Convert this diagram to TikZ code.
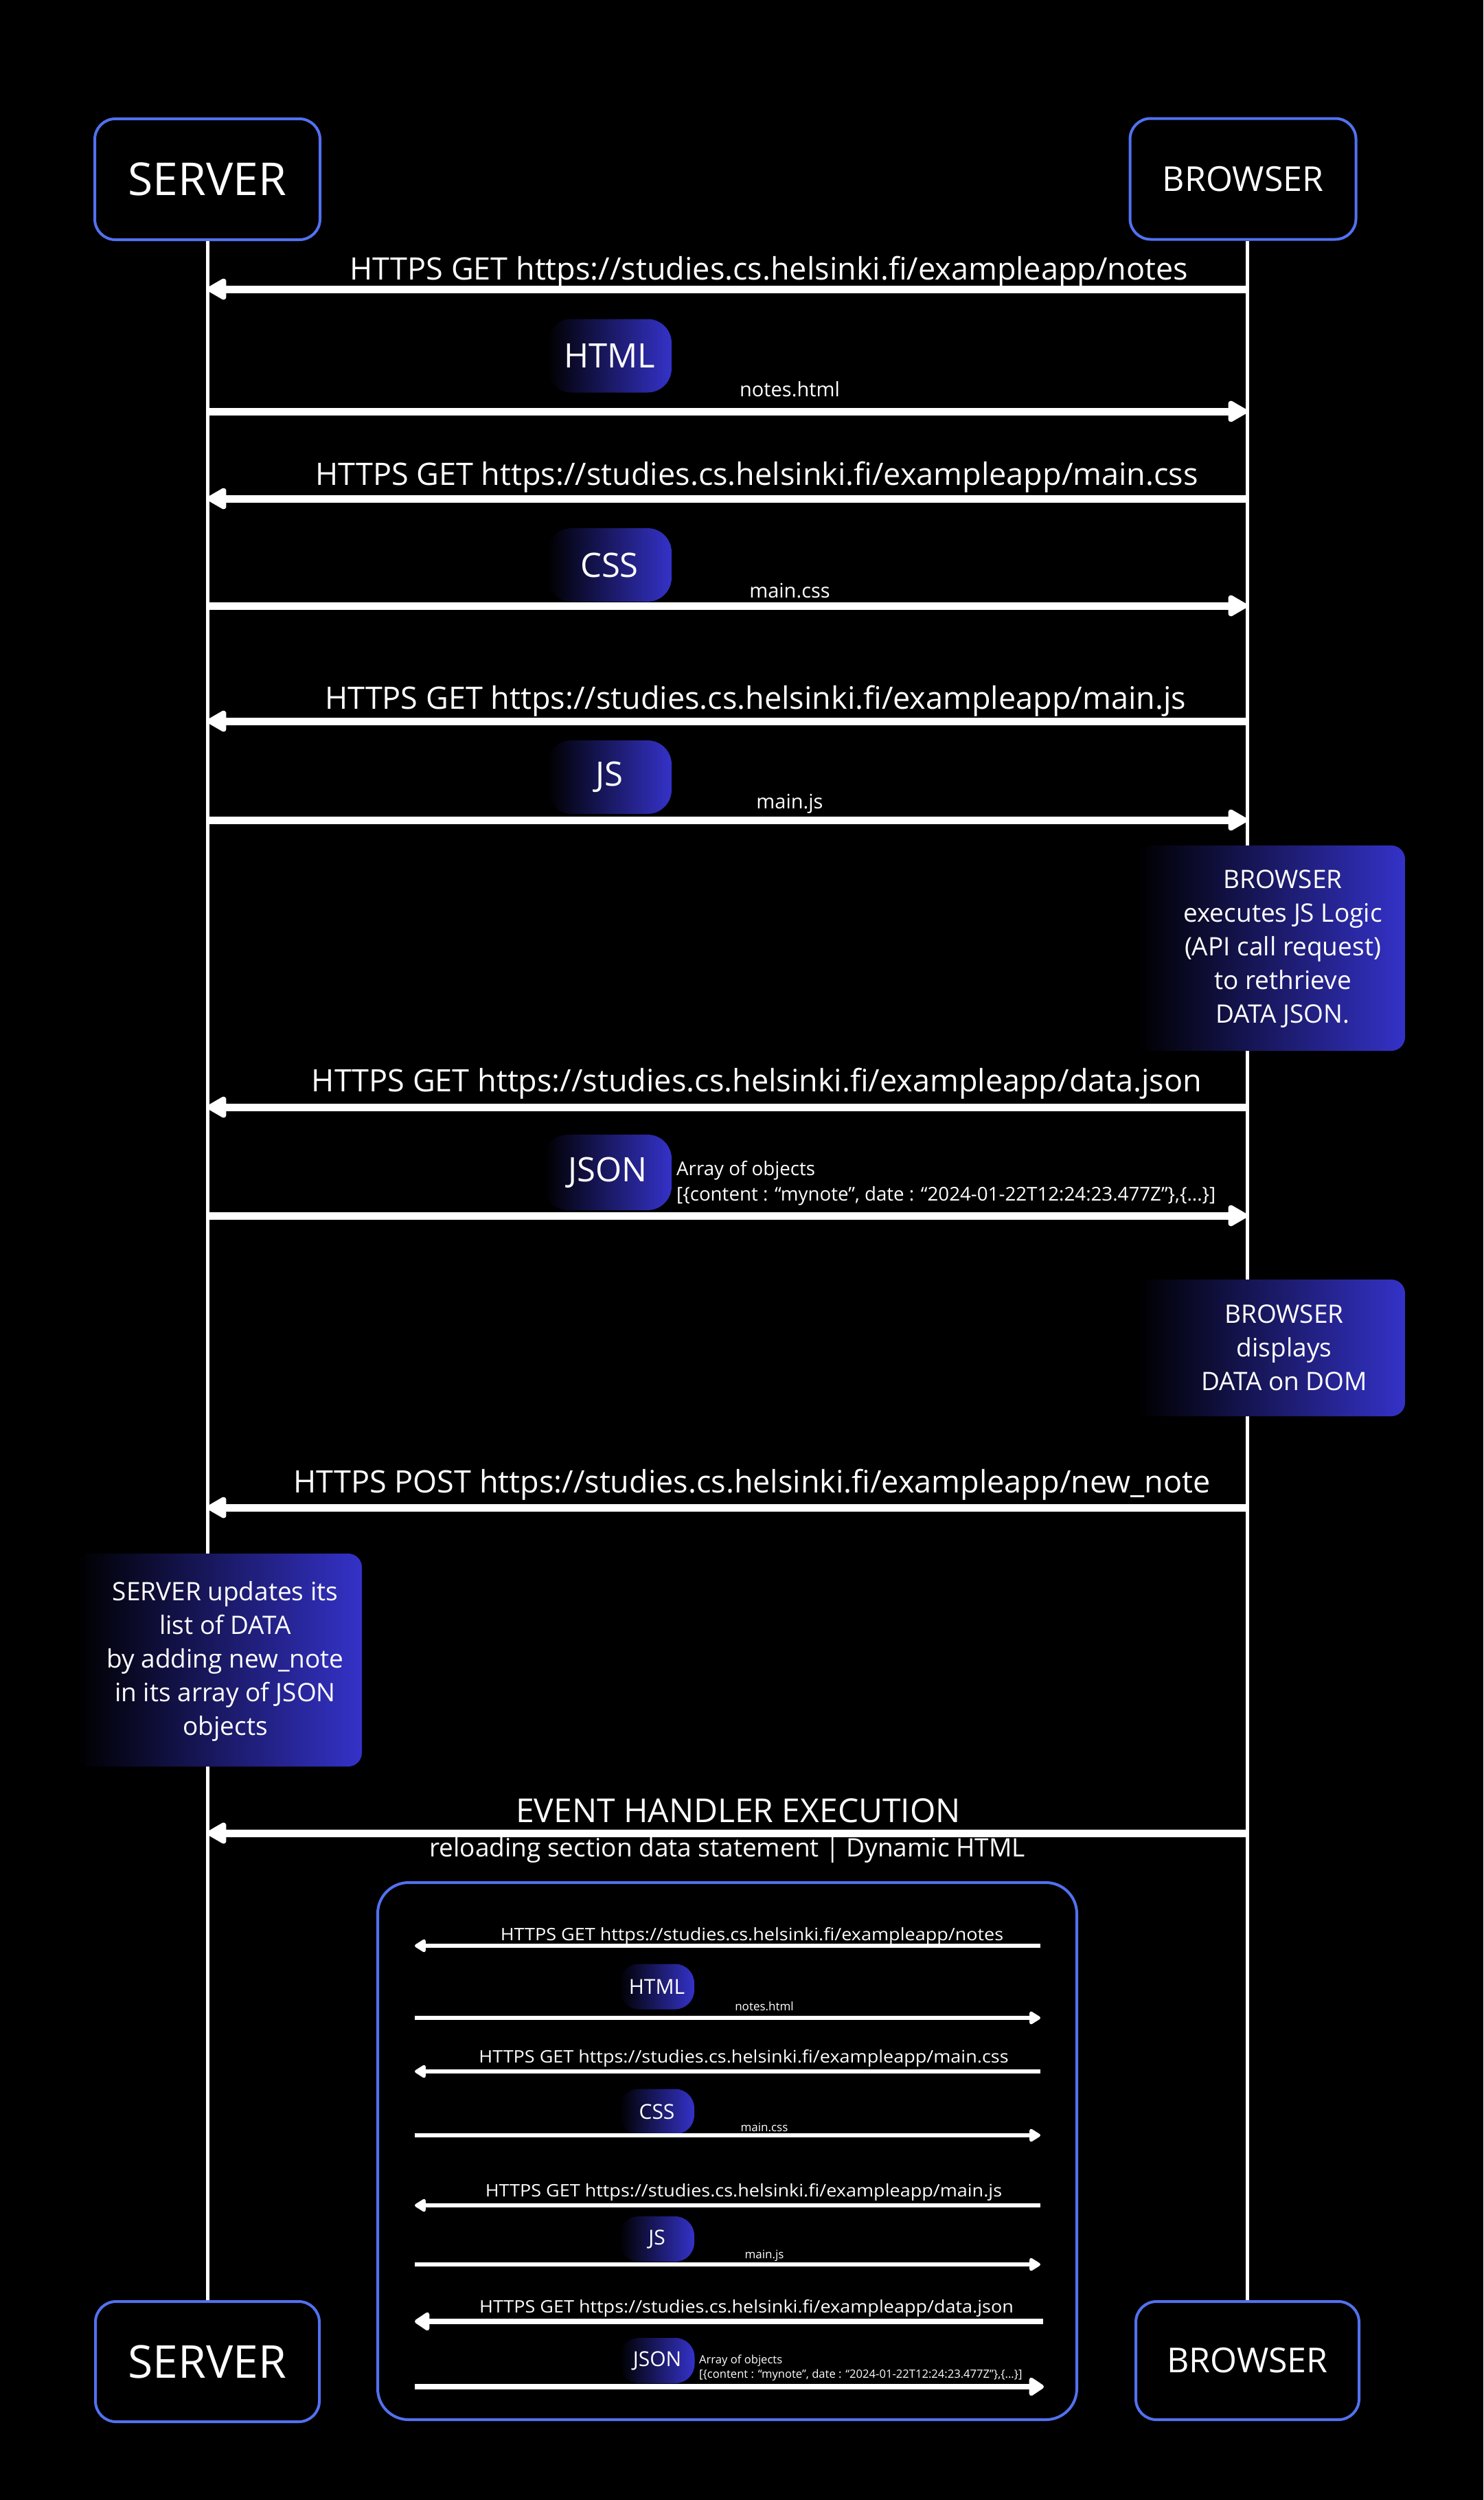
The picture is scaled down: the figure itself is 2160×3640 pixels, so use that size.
\documentclass[tikz,border=0pt]{standalone}
\usepackage{fontspec}
\setmainfont{Open Sans}
\usetikzlibrary{arrows.meta}
\definecolor{bordblue}{RGB}{82,113,240}
\definecolor{gradblue}{RGB}{52,50,200}
\newcommand{\myfs}[1]{\fontsize{#1}{#1}\selectfont}
\begin{document}
\begin{tikzpicture}[x=1pt,y=-1pt,
  actor/.style={draw=bordblue, line width=4pt, rounded corners=30pt, text=white, inner sep=0pt},
  life/.style={draw=white, line width=5pt},
  msg/.style={draw=white, line width=11pt, -{Triangle[length=32pt,width=34pt,round]}},
  imsg/.style={draw=white, line width=6pt, -{Triangle[length=18pt,width=21pt,round]}},
  imsgb/.style={draw=white, line width=7.5pt, -{Triangle[length=24pt,width=30pt,round]}},
  lbl/.style={text=white, inner sep=0pt, font=\myfs{45}, anchor=base},
  flbl/.style={text=white, inner sep=0pt, font=\myfs{29}, anchor=base},
  ilbl/.style={text=white, inner sep=0pt, font=\myfs{25}, anchor=base, xscale=1.08},
  iflbl/.style={text=white, inner sep=0pt, font=\myfs{17}, anchor=base},
  badge/.style={rounded corners=35pt, left color=black, right color=gradblue, text=white, inner sep=0pt, font=\myfs{49}, minimum width=181pt, minimum height=107pt},
  ibadge/.style={rounded corners=28pt, left color=black, right color=gradblue, text=white, inner sep=0pt, font=\myfs{30}, minimum width=109pt, minimum height=66pt},
  notebox/.style={rounded corners=20pt, left color=black, right color=gradblue, inner sep=0pt},
  notetext/.style={text=white, align=center, inner sep=0pt, font=\fontsize{37}{49}\selectfont}
]
\useasboundingbox (0,0) rectangle (2160,3640);
\fill[black] (0,0) rectangle (2160,3640);

% actors
\node[actor, minimum width=328pt, minimum height=176pt, font=\myfs{66}] (srvT) at (302,261) {SERVER};
\node[actor, minimum width=329pt, minimum height=176pt, font=\myfs{50}] (brwT) at (1810,260.5) {BROWSER};
\node[actor, minimum width=326pt, minimum height=175pt, font=\myfs{66}] (srvB) at (302,3438.5) {SERVER};
\node[actor, minimum width=325pt, minimum height=172pt, font=\myfs{50}] (brwB) at (1816.5,3437) {BROWSER};

% lifelines
\draw[life] (srvT.south) -- (srvB.north);
\draw[life] (brwB.north |- brwT.south) -- (brwB.north);

% row coordinates on lifelines
\foreach \n/\y in {1/421,2/599,3/726,4/882,5/1050,6/1194,7/1612,8/1770,9/2195,10/2669}{
  \coordinate (S\n) at (302,\y);
  \coordinate (B\n) at (1816,\y);
}

% badges
\node[badge] (bHTML) at (887.5,518) {HTML};
\node[badge] (bCSS) at (887.5,822.5) {CSS};
\node[badge] (bJS) at (887.5,1131.5) {JS};
\node[badge, minimum width=186pt, minimum height=110pt] (bJSON) at (885,1707) {JSON};

% messages
\draw[msg] (B1) -- (S1);
\node[lbl] (l1) at (1120,407) {HTTPS GET https://studies.cs.helsinki.fi/exampleapp/notes};
\draw[msg] (S2) -- (B2);
\node[flbl] (f2) at (1150,577) {notes.html};
\draw[msg] (B3) -- (S3);
\node[lbl] (l3) at (1102,706) {HTTPS GET https://studies.cs.helsinki.fi/exampleapp/main.css};
\draw[msg] (S4) -- (B4);
\node[flbl] (f4) at (1150,870) {main.css};
\draw[msg] (B5) -- (S5);
\node[lbl] (l5) at (1100,1032) {HTTPS GET https://studies.cs.helsinki.fi/exampleapp/main.js};
\draw[msg] (S6) -- (B6);
\node[flbl] (f6) at (1150,1177) {main.js};

% browser note 1
\node[notebox, minimum width=389pt, minimum height=299pt] (n1) at (1851.5,1380.5) {};
\node[notetext] (n1t) at (1868,1382) {BROWSER\\executes JS Logic\\(API call request)\\to rethrieve\\DATA JSON.};

\draw[msg] (B7) -- (S7);
\node[lbl] (l7) at (1102,1589) {HTTPS GET https://studies.cs.helsinki.fi/exampleapp/data.json};
\draw[msg] (S8) -- (B8);
\node[text=white, inner sep=0pt, font=\myfs{27.7}, anchor=base west] (a8) at (985,1711) {Array of objects};
\node[text=white, inner sep=0pt, font=\myfs{27.7}, anchor=base west] (a8b) at (985,1748) {[\{content : “mynote”, date : “2024-01-22T12:24:23.477Z”\},\{...\}]};

% browser note 2
\node[notebox, minimum width=389pt, minimum height=199pt] (n2) at (1851.5,1962.5) {};
\node[notetext] (n2t) at (1870,1962) {BROWSER\\displays\\DATA on DOM};

\draw[msg] (B9) -- (S9);
\node[lbl] (l9) at (1095,2173) {HTTPS POST https://studies.cs.helsinki.fi/exampleapp/new\_note};

% server note
\node[notebox, minimum width=415pt, minimum height=310pt] (n3) at (319.5,2417) {};
\node[notetext] (n3t) at (328,2419) {SERVER updates its\\list of DATA\\by adding new\_note\\in its array of JSON\\objects};

\draw[msg] (B10) -- (S10);
\node[text=white, inner sep=0pt, font=\myfs{48}, anchor=base] (ev) at (1075,2653) {EVENT HANDLER EXECUTION};
\node[text=white, inner sep=0pt, font=\myfs{37}, anchor=base] (ev2) at (1059,2703) {reloading section data statement | Dynamic HTML};

% inner box
\node[draw=bordblue, line width=4pt, rounded corners=45pt, minimum width=1018pt, minimum height=782pt, inner sep=0pt] (inner) at (1059,3132) {};

\foreach \n/\y in {1/2833,2/2938,3/3016,4/3109,5/3211,6/3297}{
  \coordinate (iL\n) at (604,\y);
  \coordinate (iR\n) at (1515,\y);
}
\coordinate (iL7) at (604,3380);
\coordinate (iR7) at (1519,3380);
\coordinate (iL8) at (604,3475);
\coordinate (iR8) at (1520,3475);

\node[ibadge] (ibHTML) at (956.5,2892.5) {HTML};
\node[ibadge] (ibCSS) at (956.5,3074.5) {CSS};
\node[ibadge] (ibJS) at (956.5,3260) {JS};
\node[ibadge] (ibJSON) at (957,3437) {JSON};

\draw[imsg] (iR1) -- (iL1);
\node[ilbl] (il1) at (1095,2825) {HTTPS GET https://studies.cs.helsinki.fi/exampleapp/notes};
\draw[imsg] (iL2) -- (iR2);
\node[iflbl] (if2) at (1113,2927) {notes.html};
\draw[imsg] (iR3) -- (iL3);
\node[ilbl] (il3) at (1083,3003) {HTTPS GET https://studies.cs.helsinki.fi/exampleapp/main.css};
\draw[imsg] (iL4) -- (iR4);
\node[iflbl] (if4) at (1113,3103) {main.css};
\draw[imsg] (iR5) -- (iL5);
\node[ilbl] (il5) at (1083,3198) {HTTPS GET https://studies.cs.helsinki.fi/exampleapp/main.js};
\draw[imsg] (iL6) -- (iR6);
\node[iflbl] (if6) at (1113,3288) {main.js};
\draw[imsgb] (iR7) -- (iL7);
\node[ilbl] (il7) at (1087,3367) {HTTPS GET https://studies.cs.helsinki.fi/exampleapp/data.json};
\draw[imsgb] (iL8) -- (iR8);
\node[text=white, inner sep=0pt, font=\myfs{16.6}, anchor=base west] (ia8) at (1018,3441) {Array of objects};
\node[text=white, inner sep=0pt, font=\myfs{16.6}, anchor=base west] (ia8b) at (1018,3462) {[\{content : “mynote”, date : “2024-01-22T12:24:23.477Z”\},\{...\}]};
\end{tikzpicture}
\end{document}
